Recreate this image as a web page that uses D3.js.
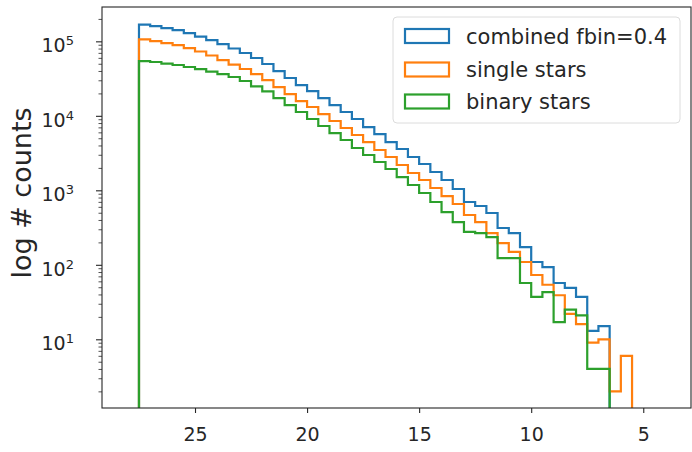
<!DOCTYPE html>
<html><head><meta charset="utf-8">
<script src="https://cdn.jsdelivr.net/npm/d3@7"></script>
<style>body{margin:0;background:#fff}svg{display:block}</style>
</head><body>
<svg id="c" width="692" height="452"></svg>
<script>
// bin edges (magnitude), histogram runs from bright-limit 27.5 down to 5.5
const binEdges = [27.5,27.0,26.5,26.0,25.5,25.0,24.5,24.0,23.5,23.0,22.5,22.0,21.5,21.0,20.5,20.0,19.5,19.0,18.5,18.0,17.5,17.0,16.5,16.0,15.5,15.0,14.5,14.0,13.5,13.0,12.5,12.0,11.5,11.0,10.5,10.0,9.5,9.0,8.5,8.0,7.5,7.0,6.5,6.0,5.5];
const seriesNames = ["combined fbin=0.4","single stars","binary stars"];
const combinedCounts = [168000,160500,150800,141800,129200,116000,104100,92000,80100,69700,59700,49600,39940,32170,25910,21520,17330,13960,11250,9060,7073,5697,4449,3584,2799,2255,1761,1375,1041,697,616,496,312,267,173,109,93,57,49,37,13,15];
const singleCounts = [106400,100900,94900,89200,81300,73000,64500,56100,48800,42500,36400,30230,24350,19610,15800,13130,10570,8516,6860,5525,4449,3475,2799,2186,1707,1375,1074,838,655,466,375,267,196,149,109,73,54,39,22,16,9,10,2,6];
const binaryCounts = [54400,52760,50360,48080,45200,42480,39320,36400,33180,29330,24890,21330,17330,13960,11250,9060,7297,5876,4734,3697,2977,2399,1932,1508,1178,920,697,511,375,276,267,236,123,123,57,37,43,17,25,21,4,4];
const xTicks = [25,20,15,10,5];
const yMajorTicks = [10,100,1000,10000,100000];
const yTickExponents = ["1","2","3","4","5"];
const colors = ["#1f77b4","#ff7f0e","#2ca02c"];

const svg = d3.select("#c");
const L = 102, R = 691, T = 7, B = 408;
const txt = "#262626";
const font = "'DejaVu Sans', sans-serif";

const x = d3.scaleLinear().domain([29.15, 2.87]).range([L, R]);
const y = d3.scaleLog().domain([1.196, 2.89e5]).range([B, T]);

svg.append("defs").append("clipPath").attr("id","clip")
  .append("rect").attr("x",L).attr("y",T).attr("width",R-L).attr("height",B-T);

// axes
const gx = svg.append("g").attr("transform",`translate(0,${B})`)
  .call(d3.axisBottom(x).tickValues(xTicks).tickSize(5).tickPadding(15).tickFormat(d3.format("d")));
gx.select(".domain").remove();
gx.selectAll("line").attr("stroke",txt).attr("stroke-width",1.1);
gx.selectAll("text").attr("fill",txt).style("font-family",font).style("font-size","19px");

const minorVals = [];
for (let e = 0; e <= 5; e++) for (let m = 2; m <= 9; m++) { const v = m*Math.pow(10,e); if (v>=1.196 && v<=2.89e5) minorVals.push(v); }
const gym = svg.append("g").attr("transform",`translate(${L},0)`)
  .call(d3.axisLeft(y).tickValues(minorVals).tickSize(3.5).tickFormat(""));
gym.select(".domain").remove();
gym.selectAll("line").attr("stroke",txt).attr("stroke-width",0.8);

const gy = svg.append("g").attr("transform",`translate(${L},0)`)
  .call(d3.axisLeft(y).tickValues(yMajorTicks).tickSize(6).tickPadding(22).tickFormat(""));
gy.select(".domain").remove();
gy.selectAll("line").attr("stroke",txt).attr("stroke-width",1.1);
gy.selectAll(".tick text").each(function(d,i){
  const t = d3.select(this).attr("fill",txt).style("font-family",font).style("font-size","19px").attr("dy","0.55em");
  t.append("tspan").text("10");
  t.append("tspan").text(yTickExponents[i]).attr("dy","-0.55em").style("font-size","13px");
});

// step histograms
const line = d3.line().x(d=>x(d[0])).y(d=>d[1]>0 ? y(d[1]) : B+10);
function stepPoints(counts){
  const pts = [[binEdges[0],0]];
  counts.forEach((c,i)=>{ pts.push([binEdges[i],c]); pts.push([binEdges[i+1],c]); });
  pts.push([binEdges[counts.length],0]);
  return pts;
}
const plot = svg.append("g").attr("clip-path","url(#clip)");
[combinedCounts, singleCounts, binaryCounts].forEach((cs,i)=>{
  plot.append("path").attr("d",line(stepPoints(cs))).attr("fill","none")
    .attr("stroke",colors[i]).attr("stroke-width",2.2).attr("stroke-linejoin","miter");
});

// frame
svg.append("rect").attr("x",L).attr("y",T).attr("width",R-L).attr("height",B-T)
  .attr("fill","none").attr("stroke",txt).attr("stroke-width",1.1);

// y label
svg.append("text").attr("transform",`translate(31,${193}) rotate(-90)`)
  .attr("text-anchor","middle").attr("fill",txt).style("font-family",font).style("font-size","27px")
  .text("log # counts");

// legend
const lg = svg.append("g");
lg.append("rect").attr("x",393).attr("y",17).attr("width",287).attr("height",106).attr("rx",4)
  .attr("fill","#fff").attr("fill-opacity",0.8).attr("stroke","#dcdcdc").attr("stroke-width",1);
const rowY = [36, 69.5, 101.5];
seriesNames.forEach((n,i)=>{
  lg.append("rect").attr("x",405).attr("y",rowY[i]-7).attr("width",44).attr("height",14)
    .attr("fill","none").attr("stroke",colors[i]).attr("stroke-width",2.2);
  lg.append("text").attr("x",466).attr("y",rowY[i]).attr("dy","0.36em").attr("fill",txt)
    .style("font-family",font).style("font-size","21px").text(n);
});
</script>
</body></html>
